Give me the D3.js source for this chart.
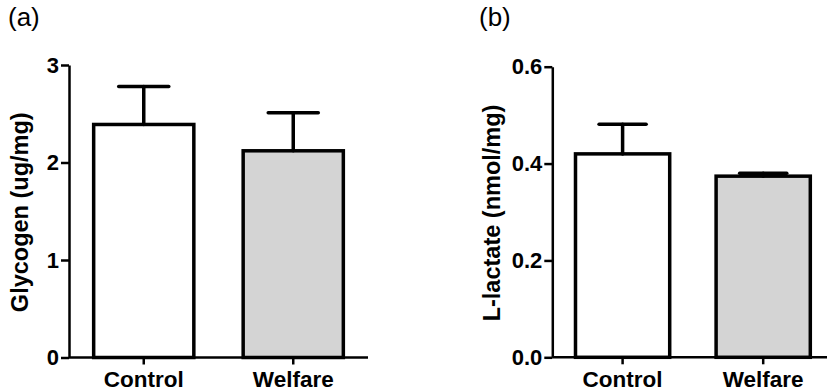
<!DOCTYPE html>
<html>
<head>
<meta charset="utf-8">
<script src="https://cdn.jsdelivr.net/npm/d3@7"></script>
<style>
  body { margin: 0; background: #fff; }
  svg { display: block; font-family: "Liberation Sans", Arial, sans-serif; }
  .axis path, .axis line { stroke: #000; stroke-width: 2.5; }
  .axis text { font-weight: bold; fill: #000; }
</style>
</head>
<body>
<svg id="chart" width="827" height="391"></svg>
<script>
const categories = ["Control", "Welfare"];
const barFills = ["#ffffff", "#d4d4d4"];

const glycogenMean = [2.39, 2.12];
const glycogenSem = [0.39, 0.39];
const glycogenTicks = [0, 1, 2, 3];

const lactateMean = [0.42, 0.374];
const lactateSem = [0.061, 0.006];
const lactateTicks = [0, 0.2, 0.4, 0.6];

const svg = d3.select("#chart");

function drawPanel(opts) {
  const g = svg.append("g");

  const x = d3.scaleBand()
    .domain(categories)
    .range(opts.xRange)
    .paddingInner(0.33)
    .paddingOuter(0.165);

  const y = d3.scaleLinear()
    .domain([0, opts.yMax])
    .range(opts.yRange);

  // bars
  g.selectAll(".bar")
    .data(opts.means)
    .enter().append("rect")
    .attr("class", "bar")
    .attr("x", (d, i) => x(categories[i]))
    .attr("width", x.bandwidth())
    .attr("y", d => y(d))
    .attr("height", d => y(0) - y(d))
    .attr("fill", (d, i) => barFills[i])
    .attr("stroke", "#000")
    .attr("stroke-width", 3.5);

  // error bars (upper only)
  const err = g.selectAll(".err")
    .data(opts.means)
    .enter().append("g")
    .attr("class", "err")
    .attr("stroke", "#000")
    .attr("stroke-width", 3.5)
    .attr("stroke-linecap", "round");

  err.append("line")
    .attr("x1", (d, i) => x(categories[i]) + x.bandwidth() / 2)
    .attr("x2", (d, i) => x(categories[i]) + x.bandwidth() / 2)
    .attr("y1", d => y(d))
    .attr("y2", (d, i) => y(d + opts.sems[i]));

  err.append("line")
    .attr("x1", (d, i) => x(categories[i]) + x.bandwidth() / 4)
    .attr("x2", (d, i) => x(categories[i]) + x.bandwidth() * 3 / 4)
    .attr("y1", (d, i) => y(d + opts.sems[i]))
    .attr("y2", (d, i) => y(d + opts.sems[i]));

  // y axis
  const yAxis = g.append("g")
    .attr("class", "axis")
    .attr("transform", "translate(" + opts.xRange[0] + ",0)")
    .call(d3.axisLeft(y).tickValues(opts.ticks).tickFormat(opts.fmt)
      .tickSize(8).tickSizeOuter(0).tickPadding(2));
  yAxis.selectAll("text").style("font-size", "22px");

  // x axis
  const xAxis = g.append("g")
    .attr("class", "axis")
    .attr("transform", "translate(0," + y(0) + ")")
    .call(d3.axisBottom(x).tickSize(7).tickSizeOuter(0).tickPadding(7));
  xAxis.select(".domain").attr("d", "M" + opts.xRange[0] + ",0H" + opts.xRange[1]);
  xAxis.selectAll("text").style("font-size", "22.5px");

  // y title
  g.append("text")
    .attr("transform", "translate(" + opts.titleX + "," + ((opts.yRange[0] + opts.yRange[1]) / 2 + 1) + ") rotate(-90)")
    .attr("text-anchor", "middle")
    .style("font-size", "23.5px")
    .style("font-weight", "bold")
    .text(opts.title);

  // panel letter
  g.append("text")
    .attr("x", opts.letterX)
    .attr("y", 26)
    .style("font-size", "26px")
    .text(opts.letter);
}

drawPanel({
  means: glycogenMean, sems: glycogenSem, ticks: glycogenTicks, yMax: 3,
  fmt: d3.format("d"),
  xRange: [69, 368], yRange: [357.5, 65],
  title: "Glycogen (ug/mg)", titleX: 28, letter: "(a)", letterX: 8
});

drawPanel({
  means: lactateMean, sems: lactateSem, ticks: lactateTicks, yMax: 0.6,
  fmt: d3.format(".1f"),
  xRange: [552.3, 833.5], yRange: [357.3, 66.7],
  title: "L-lactate (nmol/mg)", titleX: 500, letter: "(b)", letterX: 479
});
</script>
</body>
</html>
